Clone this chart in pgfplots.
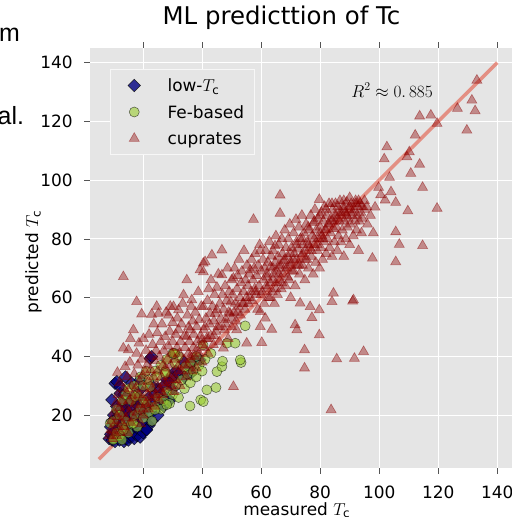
\documentclass[border=0pt]{standalone}
\usepackage{fontspec}
\setmainfont{DejaVu Sans}
\newfontfamily\slidefont{Liberation Sans}
\usepackage{pgfplots}
\pgfplotsset{compat=1.18}
\definecolor{bg}{HTML}{E5E5E5}
\definecolor{lowc}{HTML}{000080}
\definecolor{fec}{HTML}{9ACD32}
\definecolor{cupc}{HTML}{8B0000}
\definecolor{fitc}{HTML}{E24A33}
\definecolor{tickc}{HTML}{555555}

\begin{document}
\begin{tikzpicture}
\begin{axis}[
  at={(0,0)}, anchor=south west,
  scale only axis, width=422bp, height=420bp,
  xmin=2, xmax=145, ymin=2, ymax=145,
  xtick={20,40,...,140}, ytick={20,40,...,140},
  axis background/.style={fill=bg},
  axis line style={draw=none},
  grid=major, major grid style={white, line width=1bp},
  tick align=outside, tick pos=both,
  major tick length=5.5bp,
  every tick/.style={tickc, line width=0.8bp},
  tick label style={font=\fontsize{17}{20}\selectfont},
  /pgf/number format/assume math mode=true,
  yticklabel style={anchor=east, inner sep=0pt, xshift=-11.7bp},
  xticklabel style={anchor=north, inner sep=0pt, yshift=-12bp},
  xlabel={measured $T_\mathrm{c}$},
  ylabel={predicted $T_\mathrm{c}$},
  label style={font=\fontsize{17}{20}\selectfont},
  xlabel style={at={(axis description cs:0.49,-0.112)}, anchor=base},
  ylabel style={at={(axis description cs:-0.1232,0.49)}, anchor=base},
  title={ML predicttion of Tc},
  title style={at={(axis description cs:0.4538,1.0429)}, anchor=base,
    font=\fontsize{24.5}{28}\selectfont},
  legend cell align=left,
  legend style={at={(rel axis cs:0.0474,0.95)}, anchor=north west,
    fill=bg, draw=white!70!bg, line width=1bp,
    font=\fontsize{17}{20}\selectfont,
    inner xsep=10bp, inner ysep=7.5bp, row sep=9.5bp,
    nodes={inner sep=0pt, text height=15bp, text depth=2bp}},
  legend image code/.code={
    \node[anchor=west, inner sep=0pt, minimum width=47bp, minimum height=1bp,
      draw=none, fill=none] at (0bp,0bp) {};
    \draw[#1] plot coordinates {(14bp,0bp)};},
  clip=true,
]
% low-Tc
\addplot[only marks, mark=square*, mark size=4.4bp,
  mark options={rotate=45}, fill=lowc, draw=black,
  fill opacity=0.8, draw opacity=0.8, line width=0.5bp] coordinates {
(8.5,12)(9,13.5)(9.5,11.5)(10,12.5)(10,14)(10.5,11)(11,13)(11,15.5)(11.5,12)
(12,11.5)(12,14)(12.5,16)(13,12.5)(13,13.5)(13.5,11)(14,12)(14,15)(14.5,13)
(15,11.5)(15,14)(15.5,12.5)(16,13)(16,16)(17,12)(17,14.5)(18,13)(18.5,15)
(19,12.5)(20,14)(21,15)(22,16.5)(9,16)(9.5,18)(10,20)(10.5,17)(11,19)
(11.5,21)(12,18)(12.5,22)(13,20)(13,24)(14,19)(14,22)(15,18)(15,21)(15.5,24)
(16,20)(16.5,22.5)(17,19)(17,25.7)(18,21)(18.5,23)(19,28.6)(19.5,20)(20,24)
(21,22)(22,26)(23,24)(24,27)(25,29)(26,27)(27,30)(28,32)(30,33)(31,35)
(33.7,38.2)(35.9,36)(37.6,38.8)(32,34)(29,31)(9.4,25.2)(10.5,30.8)(11.1,31.4)
(12.2,27.4)(12.2,29.7)(16.2,30.8)(17.9,25.7)(22.4,39.3)(22.9,39.9)(14,33)
(13.5,27)(11,23)(18,17)(20,18)(22,20)(24,22)(26,24)(28,26)(19,32)(23,30)
(21.2,15)(23,18)(25,20)(27,23)(29,25)(34,33)(36,34)(39.3,38.8)(30,29)
};
\addlegendentry{low-$T_\mathrm{c}$}
% Fe-based
\addplot[only marks, mark=*, mark size=5bp, fill=fec, draw=black,
  fill opacity=0.6, draw opacity=0.6, line width=0.5bp] coordinates {
(10,12)(11,14)(12,13)(13,16)(14,18)(15,14)(16,17)(17,20)(18,16)(19,22)(20,19)
(21,24)(22,21)(23,18)(24,23)(25,26)(26,22)(27,25)(28,28)(29,24)(30,27)(31,30)
(32,26)(33,32)(34,29)(35,34)(36,31)(37,35)(38,33)(39,37)(40,35)(41,39)
(10,18)(11,22)(12,20)(13,25)(14,27)(15,29)(16,25)(17,30)(18,27)(19,33)(20,30)
(21,35)(22,32)(24,35)(26,37)(28,39)(30,41)(32,40)
(27.5,34.8)(30.8,41)(35.9,23.1)(39.5,25.2)(40.4,24.6)(41.6,28.6)(44.7,29.4)
(45,34.8)(46.7,36.5)(46.9,38.4)(53.2,37.9)(48.4,44.5)(51.2,44.5)(54.6,50.4)
(40.3,43.9)(52.9,38.8)(30.3,41)(30.8,37.6)(27.5,34.2)(34.2,36.5)(28,23.5)
(24,21.8)(17.3,26.3)(9.9,11.6)(12.8,11.6)(24.6,33.1)(22.4,29.7)(20.1,25.2)
(16.7,17.2)(13.3,15)(8.8,17.2)(36,38)(38,40)(43,41)
};
\addlegendentry{Fe-based}
% cuprates
\addplot[only marks, mark=triangle*, mark size=5.8bp, fill=cupc, draw=cupc,
  fill opacity=0.4, draw opacity=0.45, line width=0.6bp] coordinates {
(8.5,13)(9,15)(9.2,18)(9.6,12)(10,14.5)(10.2,21)(10.5,17)(10.8,24)(11,13)
(11.2,19.5)(11.5,27)(11.8,16)(12,22.5)(12,31)(11.3,34.5)
(12.3,14)(12.5,18)(12.8,25)(13,20.5)(13.3,42.8)(13.3,67.1)(13.5,29)(13.6,16)
(13.9,36.5)(14,23)(14.2,19)(14.5,27.5)(14.6,33)(14.8,14)(15,42.2)(15.2,21)
(15.4,25)(15.5,38)(15.8,17.5)(16,30)(15.7,46)
(16.2,22)(16.4,26.5)(16.7,49)(16.9,19)(17,34)(17.2,24)(17.4,29)(17.8,41)
(17.8,58.6)(18,21)(18.2,37)(18.4,27)(18.6,44.5)(18.8,31.5)(19,23.5)(19.2,17)
(19.5,54.4)(19.5,39)(19.7,26)(19.9,33.5)(20.1,46)(20,20)
(20.4,29)(20.7,34.8)(20.9,24)(21,42)(21.3,37)(21.5,27)(21.8,22)(21.8,31.5)
(22,47.5)(22.3,40)(22.4,26)(22.6,35.5)(22.9,54.3)(23,29)(23.2,44)(23.5,33)
(23.6,51)(23.8,23)(24,38.5)(24.2,27)(24.4,42)(24.6,30.5)(24.8,48)(25,35)
(25.2,54.6)(24.6,57)
(25.4,25)(25.5,40)(25.8,29)(26,45)(26.2,33)(26.4,51)(26.7,37)(26.8,27)(27,42)
(27.2,31)(27.5,46.7)(27.6,36)(27.8,55)(28,29.5)(28.2,39)(28.5,43.5)(28.6,54)
(28.7,33)(29,48.5)(29.2,57)(29.3,37)(29.5,30)(29.7,41)(30,45)(30.3,56.9)
(30,51.5)(30.2,34)
(30.5,28)(30.8,39)(31,47.5)(31.2,32)(31.5,43)(31.6,53)(31.8,36.5)(32,49)
(32,55.8)(32.3,41)(32.5,30)(32.7,45)(33,35)(33,51)(33.4,58)(33.7,60.9)(33.8,39)
(34,47)(34.2,43)(34.5,33)(34.8,46.7)(34.8,66)(35,54)(35.2,37)(35.4,50)(35.4,41)
(35.7,45)(35.9,49)(36,39)(36.3,57)(36.5,59.2)(36.6,35)(36.8,52)(37,43)
(37.2,47.5)(37.5,40)(37.7,55)(38,36)(38.2,50)(38.4,45)(38.7,62)(39,41)
(39,52.5)(39.3,69.4)(39.5,47)(39.7,57)(39.9,45.6)(40,38)
(40.4,56.9)(40.4,68.8)(40.4,71.7)(40.6,49)(40.8,43)(41,50.1)(41,72.2)(41.3,53)
(41.5,46)(41.8,59)(42,41)(42.2,63)(42.5,51)(42.7,54.6)(42.9,47)(43,66)
(43.3,74.5)(43.5,57)(43.8,44)(44,52)(44.2,61)(44.4,54.6)(44.7,48.5)(45,55.8)
(45,63.5)
(45.3,50)(45.5,68)(45.8,45)(46,58)(46.3,53)(46.7,67.7)(46.7,76.2)(46.9,61)
(47.2,42.8)(47.3,56)(47.6,49)(47.8,64)(48,52.5)(48.3,59)(48.6,70)(48.8,46)
(49,55)(49.2,62)(49.5,54.6)(49.7,58.5)(50,50)(50,66)
(50.3,61)(50.6,29.7)(50.6,66.6)(50.8,55)(51,70)(51.2,58)(51.5,52)(51.7,49)
(51.8,63)(52,67.5)(52.3,57)(52.5,73)(52.8,60)(53,54)(53.2,65)(53.5,69)
(53.8,58)(54,62)(54.2,76)(54.5,56)(54.7,66)(55,60)(55.1,44.5)(55.2,71)
(55.5,64)(55.7,58)(56,68)(56.3,69.4)(56.5,62)(56.8,73)(57,59)(57.2,66)
(57.4,86.6)(57.6,70)(57.8,63)(58,75)(58.3,61)(58.5,67.5)(58.8,56)(59,71)
(59.3,64)(59.5,78)(59.7,55.2)(59.7,76)(59.7,50.1)(60,69)(60.2,44.7)
(60.3,62)(60.6,73)(60.8,66)(61,58)(61.2,70)(61.4,53)(61.5,76)(61.8,64)(62,68)
(62.3,72)(62.5,60)(62.8,79)(63,65)(63.2,70.5)(63.4,74.1)(63.6,49.2)(63.8,62)
(64,76)(64.2,68)(64.5,58)(64.7,77.6)(64.8,72)(65,65)(65,81)
(65.3,69)(65.5,61)(65.7,74)(66,78)(66.2,66)(66.4,94.9)(66.4,88.7)(66.6,71)
(66.8,63)(67,80)(67.2,75)(67.5,68)(67.7,72.5)(68,83)(68.2,64)(68.4,77)
(68.7,70)(69,74)(69.2,80)(69.5,66)(69.7,85)(70,72)(70,60)
(70.3,77)(70.5,69)(70.9,72.8)(71,82)(71.2,75)(71.5,50.7)(71.5,64)(71.8,86.6)
(72,79)(72.1,49)(72.3,71)(72.5,76.5)(72.8,84)(73,68)(73.2,58.1)(73.3,80)
(73.6,74)(73.8,88)(74,71)(74.2,78)(74.5,82)(74.7,42.2)(74.7,36)(74.8,66)(75,76)
(75.2,85)(75.5,73)(75.7,79)(76,70)(76.2,83)(76.5,77)(76.6,56.9)(76.8,88)(77,74)
(77.2,53.2)(77.3,81)(77.6,68)(77.8,85.5)(78,78)(78.2,90)(78.5,72)(78.7,83)
(79,76)(79.2,87)(79.5,80)(79.7,93.4)(79.7,47.3)(79.7,55.8)(79.8,70)(80,84)
(80.2,77)(80.4,89)(80.6,81)(80.8,73)(81,86)(81.2,79)(81.5,91)(81.7,83)(82,75)
(82.2,88)(82.5,80)(82.7,85)(83,92)(83.2,77)(83.5,82)(83.7,21.8)(83.7,87)
(84,58.6)(84,74)(84.2,90)(84.5,61.5)(84.5,83.5)(84.8,79)(85,88)
(85.2,92)(85.5,84)(85.6,39.1)(85.8,76)(86,89)(86.2,81)(86.5,86)(86.7,93)(87,79)
(87.2,88)(87.5,83)(87.8,91)(88,74)(88.2,86)(88.5,89)(88.7,80)(89,92.5)(89.2,84)
(89.5,87)(89.8,90)(90,78)
(90.2,85)(90.5,92)(90.8,88)(91,58.8)(91.2,81)(91.3,59.2)(91.5,90)(91.6,39.3)
(91.8,86)(92,93)(92.3,83)(92.5,88)(92.8,91)(93,76)(93.2,86)(93.6,92.1)(93.8,89)
(94,82)(94.2,87)(94.7,41.6)(95,90)(95.8,90.9)(96,85)(97,88)(97.7,73.4)
(98.6,90.8)(99.8,97.5)(98,82)
(102,93.2)(101.7,107.2)(102.6,111.3)(103.5,100.9)(105.6,92.4)(105.6,82.4)
(105.6,72.2)(106.8,78.1)(109.4,107.9)(110.2,109.6)(109.7,89.5)(110.7,102.3)
(112.2,115.3)(113.7,105.4)(113.7,121.8)(114.7,97.5)(114.7,77.7)(117.5,122.1)
(119.6,119.3)(119.6,90.4)(126.5,124.4)(129.7,117.0)(131.4,127.2)(132.5,123.6)
(133.1,134.0)(100.5,95)(104,96)
(60,61)(62,63)(63,60)(64,66)(65,63)(66,68)(67,65)(68,70)(69,67)(70,71)(71,69)
(72,73)(73,71)(74,75)(75,73)(76,78)(77,76)(78,80)(79,78)(80,82)(81,80)(82,83)
(83,85)(84,86)(85,86)(86,87)(87,89)(88,90)(89,88)(90,91)(91,89)(92,92)(93,93)
(94,91)(95,93)(86,91)(88,93)(90,94)(84,92)(82,90)(80,88)(78,86)(76,84)(74,80)
(72,78)(70,75)(68,73)(66,71)(64,70)(62,67)
(20,22)(22,24)(24,26)(26,28)(28,31)(30,32)(32,35)(34,37)(36,40)(38,42)(40,44)
(42,46)(44,47)(46,50)(48,51)(50,53)(52,55)(54,58)(56,60)(58,62)
};
\addlegendentry{cuprates}
% fit line
\addplot[fitc, opacity=0.55, line width=3.5bp, forget plot] coordinates {(5,5)(140,140)};
\node[anchor=base, font=\fontsize{18}{21}\selectfont]
  at (axis description cs:0.7156,0.8833) {$R^2\approx 0.\,885$};
\end{axis}
\node[anchor=base west, inner sep=0pt, font=\slidefont\fontsize{25}{30}\selectfont]
  at (-91bp,426.3bp) {m};
\node[anchor=base west, inner sep=0pt, font=\slidefont\fontsize{25}{30}\selectfont]
  at (-92.5bp,343bp) {al.};
\pgfresetboundingbox
\path[use as bounding box] (-90bp,-49bp) rectangle (422bp,468bp);
\end{tikzpicture}
\end{document}
